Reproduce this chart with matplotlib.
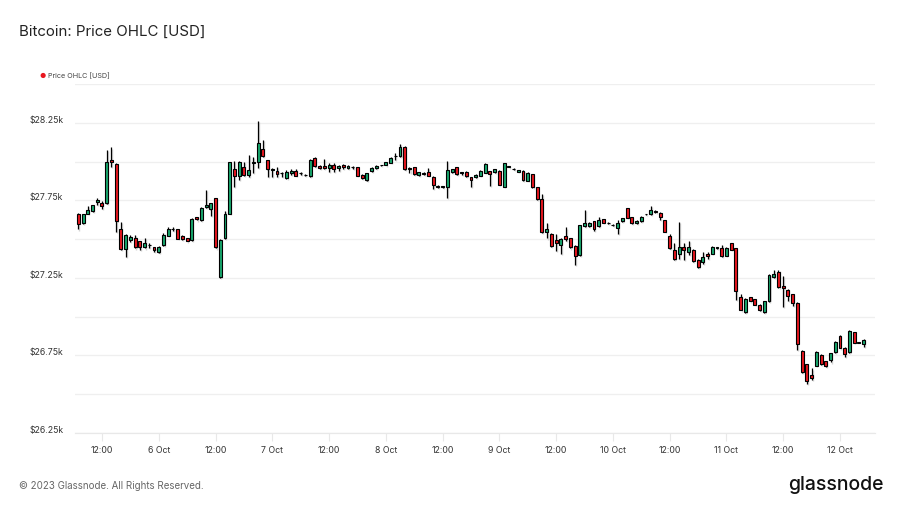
import pandas as pd
import numpy as np
import matplotlib
matplotlib.use("Agg")
import matplotlib.pyplot as plt
import matplotlib.dates as mdates
import matplotlib.transforms as mtransforms

# ----------------------------------------
# Data (hourly BTC candles)
# ----------------------------------------
start_time = "2023-10-05 07:00"

opens = [27665, 27607, 27665, 27682, 27740, 27736, 27730, 28013, 27983, 27564,
         27437, 27493, 27508, 27487, 27450, 27461, 27446, 27414, 27459, 27523,
         27564, 27564, 27523, 27506, 27493, 27640, 27622, 27704, 27691, 27762,
         27253, 27506, 27665, 27951, 27906, 27966, 27912, 27992, 27998, 28078,
         28007, 27947, 27938, 27923, 27895, 27923, 27938, 27923, 27913, 27904,
         28026, 27973, 27971, 27958, 27980, 27956, 27975, 27956, 27962, 27962,
         27913, 27878, 27938, 27956, 27977, 27977, 27992, 28035, 28033, 28091,
         27958, 27962, 27913, 27921, 27932, 27902, 27837, 27837, 27833, 27930,
         27962, 27928, 27934, 27898, 27898, 27908, 27928, 27938, 27932, 27941,
         27838, 27966, 27951, 27934, 27941, 27876, 27919, 27833, 27756, 27545,
         27536, 27493, 27465, 27521, 27506, 27457, 27395, 27586, 27584, 27614,
         27582, 27627, 27601, 27590, 27571, 27614, 27698, 27642, 27603, 27614,
         27661, 27661, 27680, 27670, 27622, 27519, 27429, 27401, 27446, 27414,
         27429, 27364, 27353, 27407, 27407, 27444, 27444, 27392, 27472, 27440,
         27124, 27027, 27124, 27113, 27078, 27027, 27100, 27257, 27285, 27197,
         27175, 27143, 27091, 26780, 26694, 26625, 26683, 26756, 26713, 26719,
         26773, 26874, 26801, 26769, 26898, 26831, 26822]

highs = [27668, 27665, 27712, 27722, 27762, 27745, 28074, 28091, 27990, 27611,
         27530, 27525, 27525, 27490, 27508, 27475, 27450, 27455, 27540, 27575,
         27578, 27566, 27525, 27508, 27635, 27645, 27705, 27816, 27735, 27765,
         27500, 27680, 28000, 28005, 28005, 28000, 28041, 28030, 28261, 28138,
         28010, 27960, 27966, 27935, 27945, 27950, 27950, 27935, 27918, 28015,
         28030, 27975, 28018, 27990, 27990, 27975, 27985, 27975, 27970, 27965,
         27920, 27925, 27963, 27975, 27980, 27998, 28027, 28052, 28113, 28100,
         27965, 27966, 27935, 27930, 27956, 27905, 27850, 27840, 28005, 27955,
         27966, 27935, 27940, 27900, 27920, 27945, 27990, 27942, 27953, 27945,
         27992, 27970, 27960, 27948, 27945, 27930, 27922, 27836, 27794, 27605,
         27540, 27532, 27505, 27575, 27510, 27460, 27592, 27687, 27610, 27618,
         27644, 27630, 27608, 27597, 27620, 27636, 27702, 27645, 27620, 27646,
         27665, 27713, 27685, 27672, 27625, 27530, 27476, 27610, 27475, 27487,
         27435, 27370, 27418, 27420, 27455, 27451, 27465, 27448, 27475, 27443,
         27143, 27122, 27127, 27116, 27080, 27102, 27272, 27304, 27300, 27261,
         27180, 27147, 27095, 26783, 26697, 26666, 26778, 26759, 26716, 26768,
         26841, 26879, 26804, 26912, 26900, 26834, 26856]

lows = [27562, 27600, 27660, 27678, 27720, 27697, 27725, 27966, 27547, 27430,
        27386, 27480, 27440, 27430, 27440, 27445, 27420, 27410, 27455, 27520,
        27553, 27500, 27495, 27485, 27490, 27620, 27615, 27700, 27650, 27440,
        27250, 27500, 27660, 27837, 27880, 27905, 27900, 27925, 27956, 28030,
        27902, 27900, 27902, 27900, 27890, 27915, 27905, 27912, 27908, 27900,
        27965, 27950, 27950, 27935, 27935, 27940, 27950, 27952, 27955, 27905,
        27885, 27875, 27930, 27950, 27973, 27975, 27990, 28010, 28030, 27945,
        27925, 27912, 27910, 27915, 27905, 27822, 27830, 27832, 27766, 27925,
        27912, 27915, 27900, 27837, 27895, 27905, 27925, 27842, 27928, 27848,
        27835, 27962, 27945, 27930, 27877, 27872, 27832, 27752, 27540, 27504,
        27452, 27425, 27407, 27490, 27440, 27332, 27390, 27580, 27578, 27555,
        27578, 27603, 27595, 27585, 27532, 27610, 27635, 27600, 27598, 27610,
        27657, 27658, 27670, 27625, 27545, 27435, 27365, 27370, 27365, 27395,
        27355, 27313, 27340, 27370, 27403, 27437, 27387, 27390, 27430, 27106,
        27040, 27025, 27098, 27075, 27038, 27025, 27096, 27250, 27188, 27063,
        27100, 27070, 26784, 26640, 26567, 26590, 26680, 26690, 26678, 26705,
        26768, 26795, 26740, 26765, 26830, 26828, 26805]

closes = [27596, 27661, 27687, 27719, 27755, 27715, 27998, 28000, 27614, 27437,
          27525, 27514, 27446, 27446, 27472, 27461, 27433, 27450, 27525, 27564,
          27564, 27502, 27500, 27487, 27629, 27629, 27702, 27717, 27730, 27446,
          27497, 27665, 27994, 27908, 27996, 27912, 27945, 27992, 28117, 28035,
          27949, 27947, 27919, 27923, 27930, 27940, 27910, 27923, 27913, 28011,
          27971, 27958, 27956, 27975, 27951, 27971, 27962, 27971, 27962, 27908,
          27893, 27923, 27960, 27973, 27977, 27994, 28024, 28035, 28091, 27949,
          27949, 27917, 27930, 27921, 27908, 27846, 27837, 27837, 27945, 27951,
          27917, 27928, 27904, 27880, 27913, 27938, 27984, 27919, 27949, 27852,
          27988, 27966, 27951, 27945, 27880, 27926, 27837, 27756, 27547, 27562,
          27457, 27478, 27498, 27500, 27446, 27390, 27588, 27603, 27601, 27562,
          27623, 27607, 27601, 27590, 27607, 27633, 27638, 27603, 27616, 27642,
          27661, 27687, 27674, 27640, 27547, 27440, 27369, 27446, 27433, 27446,
          27358, 27317, 27386, 27390, 27450, 27444, 27390, 27444, 27433, 27167,
          27042, 27117, 27102, 27078, 27042, 27098, 27268, 27274, 27192, 27182,
          27132, 27089, 26823, 26644, 26586, 26605, 26775, 26694, 26681, 26764,
          26837, 26799, 26758, 26909, 26833, 26831, 26852]

ytick_values = [26250, 26750, 27250, 27750, 28250]
ytick_labels = ["$26.25k", "$26.75k", "$27.25k", "$27.75k", "$28.25k"]

# ----------------------------------------
# Setup
# ----------------------------------------
plt.rcParams["font.family"] = ["Inter", "DejaVu Sans"]

times = pd.date_range(start_time, periods=len(opens), freq="h")
x = mdates.date2num(times)
o = np.array(opens, dtype=float)
h = np.array(highs, dtype=float)
l = np.array(lows, dtype=float)
c = np.array(closes, dtype=float)

up = c >= o
green = "#18a86d"
red = "#e8171f"
colors = np.where(up, green, red)

body_bottom = np.minimum(o, c)
body_height = np.maximum(np.abs(c - o), 2.5)
width = 0.62 / 24

fig = plt.figure(figsize=(9.04, 5.08), dpi=100)
ax = fig.add_axes([75 / 904, 1 - 433 / 508, 800 / 904, (433 - 84) / 508])

# light drop shadow (offset ~1px right / down)
dx = 0.22 / 24
dy = 7
ax.vlines(x + dx, l - dy, h - dy, color="#d4d4d4", linewidth=1.0, zorder=1)
ax.bar(x + dx, body_height, width, bottom=body_bottom - dy, color="#d4d4d4",
       linewidth=0, zorder=1)

# wicks + bodies
ax.vlines(x, l, h, color="black", linewidth=0.9, zorder=2)
ax.bar(x, body_height, width, bottom=body_bottom, color=colors,
       edgecolor="black", linewidth=0.8, zorder=3)

# ----------------------------------------
# Axes styling
# ----------------------------------------
ax.set_ylim(26250, 28500)
ax.set_xlim(mdates.date2num(pd.Timestamp("2023-10-05 06:18")),
            mdates.date2num(pd.Timestamp("2023-10-12 07:24")))

ax.set_yticks(np.arange(26250, 28501, 250))
ax.set_yticklabels([])
ax.tick_params(axis="y", length=0)
ax.grid(axis="y", color="#efefef", linewidth=0.9, zorder=0)
ax.set_axisbelow(True)

trans = mtransforms.blended_transform_factory(fig.transFigure, ax.transData)
for val, lab in zip(ytick_values, ytick_labels):
    ax.text(30 / 904, val, lab, transform=trans, ha="left", va="baseline",
            fontsize=6.3, color="#333333")

xticks = pd.date_range("2023-10-05 12:00", "2023-10-12 00:00", freq="12h")
xlabels = ["12:00" if t.hour == 12 else f"{t.day} Oct" for t in xticks]
ax.set_xticks(mdates.date2num(xticks))
ax.set_xticklabels(xlabels, fontsize=6.3, color="#333333")
ax.tick_params(axis="x", length=6, width=0.8, color="#e8e8e8", pad=3.5)

for s in ["top", "right", "left"]:
    ax.spines[s].set_visible(False)
ax.spines["bottom"].set_color("#e8e8e8")
ax.spines["bottom"].set_linewidth(0.9)

# ----------------------------------------
# Titles, legend, footer
# ----------------------------------------
fig.text(19 / 904, 1 - 32 / 508, "Bitcoin: Price OHLC [USD]", fontsize=10.8,
         color="#222222", va="center", ha="left")
fig.text(43 / 904, 1 - 76 / 508, "\u25cf", fontsize=5, color="#e8171f",
         va="center", ha="center")
fig.text(48 / 904, 1 - 76 / 508, "Price OHLC [USD]", fontsize=5.2,
         color="#444444", va="center", ha="left")
fig.text(19 / 904, 1 - 486 / 508, "\u00a9 2023 Glassnode. All Rights Reserved.",
         fontsize=7.0, color="#666666", va="center", ha="left")
fig.text(884 / 904, 1 - 485 / 508, "glassnode", fontsize=14, color="#111111",
         va="center", ha="right", fontweight="medium")

fig.savefig("out.png", dpi=100)
